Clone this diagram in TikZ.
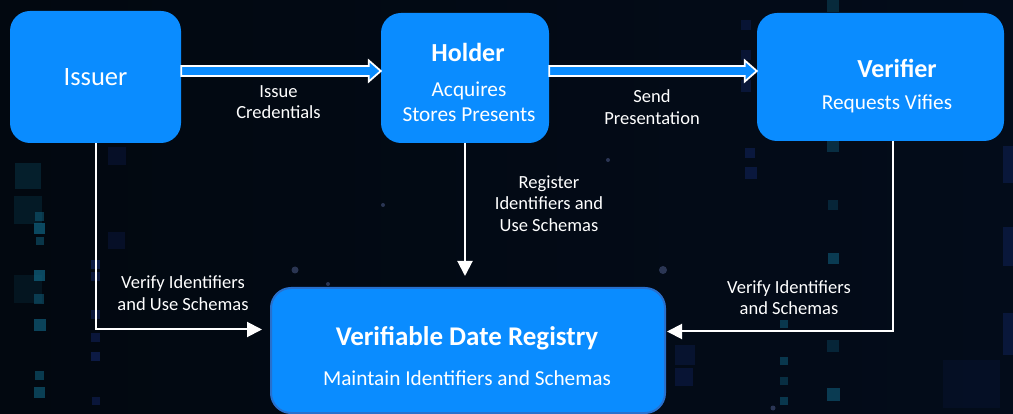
\documentclass[tikz,border=0pt]{standalone}
\usepackage{fontspec}
\setmainfont{Carlito}
\usepackage{tikz}
\usetikzlibrary{positioning, calc, arrows.meta}

\definecolor{boxblue}{RGB}{10,140,255}
\definecolor{regedge}{RGB}{40,112,205}
\definecolor{bgleft}{RGB}{2,8,16}
\definecolor{bgmid}{RGB}{11,38,66}
\definecolor{bgright}{RGB}{3,12,26}
\definecolor{tile}{RGB}{16,100,130}
\definecolor{tileblue}{RGB}{22,44,120}

\tikzset{
  party/.style={fill=boxblue, rounded corners=20pt},
  title/.style={text=white, anchor=base, font=\fontsize{26}{30}\selectfont\bfseries},
  sub/.style={text=white, align=center, font=\fontsize{21.3}{25}\selectfont},
  flowlabel/.style={text=white, align=center, font=\fontsize{18.5}{21.5}\selectfont},
  link/.style={draw=white, line width=2pt, -{Triangle[length=15pt, width=15pt]}},
  fat/.style={draw=white, fill=boxblue, line width=1.8pt},
}

% hollow block arrow between two points at the same height
\newcommand{\fatarrow}[2]{%
  \draw[fat] ($(#1)+(0,5)$) -- ($(#2)+(-12,5)$) -- ($(#2)+(-12,10.5)$) -- (#2)
    -- ($(#2)+(-12,-10.5)$) -- ($(#2)+(-12,-5)$) -- ($(#1)+(0,-5)$) -- cycle;}

\begin{document}
\begin{tikzpicture}[x=1pt, y=-1pt]
	\useasboundingbox (0,0) rectangle (1013,414);
	\shade[left color=bgleft, middle color=bgmid, right color=bgright] (0,0) rectangle (1013,414);

	% background tiles
	\foreach \x/\y/\s/\o in {15/163/26/.25, 14/196/28/.2, 35/212/9/.5, 34/223/11/.7,
		36/237/8/.5, 14/275/28/.15, 34/270/11/.7, 34/294/10/.5, 34/319/12/.65,
		35/371/9/.55, 34/387/11/.6, 827/0/12/.35, 827/140/12/.4, 828/200/10/.3,
		828/253/11/.55, 827/340/12/.3, 827/388/13/.55, 780/320/8/.5, 780/357/8/.5,
		780/377/8/.4, 780/397/8/.5}
		\fill[tile, opacity=\o] (\x,\y) rectangle ++(\s,\s);
	\foreach \x/\y/\w/\h/\o in {91/260/9/9/.5, 91/272/9/9/.4, 91/310/9/9/.4,
		91/333/9/9/.4, 91/352/9/9/.5, 92/397/8/8/.4, 108/147/18/18/.22,
		108/232/17/17/.22, 741/20/10/10/.3, 741/50/10/10/.3, 741/80/10/12/.35,
		745/148/10/10/.4, 745/167/12/12/.4, 675/345/20/20/.25, 675/368/18/18/.3,
		1003/146/10/37/.35, 1003/227/10/39/.35, 1003/313/10/42/.35, 943/360/57/48/.12}
		\fill[tileblue, opacity=\o] (\x,\y) rectangle ++(\w,\h);
	\foreach \x/\y/\r in {295/270/3.5, 328/284/2, 663/270/4, 608/160/2, 383/205/2, 773/408/2.5}
		\fill[tileblue!70!white, opacity=.45] (\x,\y) circle (\r);

	% parties
	\node[party, minimum width=171pt, minimum height=132pt, text=white,
		font=\fontsize{26.5}{30}\selectfont] (issuer) at (95.5,77) {Issuer};
	\node[party, minimum width=168pt, minimum height=130pt] (holder) at (465,78) {};
	\node[party, minimum width=247pt, minimum height=128pt] (verifier) at (880.5,77) {};
	\node[party, draw=regedge, line width=2pt, minimum width=394pt,
		minimum height=125pt] (reg) at (468,350.5) {};

	\node[title] (holder-t) at (468,62) {Holder};
	\node[sub] (holder-s) at (469,101.5) {Acquires\\Stores Presents};
	\node[title] (verifier-t) at (897,78) {Verifier};
	\node[sub, anchor=base] (verifier-s) at (887,110) {Requests Vifies};
	\node[title, font=\fontsize{27}{30}\selectfont\bfseries] (reg-t) at (467,345) {Verifiable Date Registry};
	\node[sub, anchor=base] (reg-s) at (467,385) {Maintain Identifiers and Schemas};

	% flows
	\coordinate (a1) at ([yshift=6pt]issuer.east);
	\coordinate (a2) at ([yshift=7pt]holder.west);
	\coordinate (b1) at ([yshift=7pt]holder.east);
	\coordinate (b2) at ([yshift=6pt]verifier.west);
	\fatarrow{a1}{a2}
	\fatarrow{b1}{b2}

	\draw[link, shorten >=8pt] (issuer.south) |- ([yshift=21pt]reg.west);
	\draw[link, shorten >=11pt] (holder.south) -- (holder.south |- reg.north);
	\draw[link, shorten >=1pt] ([xshift=12.5pt]verifier.south) |- ([yshift=19pt]reg.east);

	\node[flowlabel] (issue) at (278.5,102) {Issue\\Credentials};
	\node[flowlabel] (send) at (652,107) {Send\\Presentation};
	\node[flowlabel] (register) at (549,203.5) {Register\\Identifiers and\\Use Schemas};
	\node[flowlabel] (verify-i) at (183,293) {Verify Identifiers\\and Use Schemas};
	\node[flowlabel] (verify-v) at (789,297.5) {Verify Identifiers\\and Schemas};
\end{tikzpicture}
\end{document}
